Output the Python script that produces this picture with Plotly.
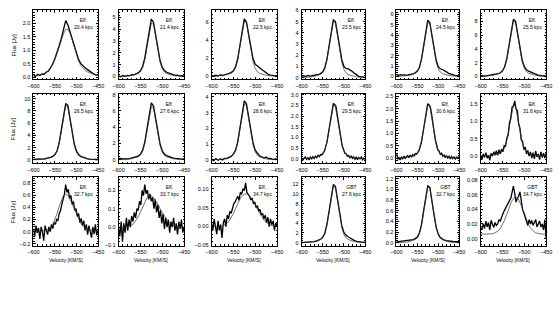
import plotly.graph_objects as go

# velocity grids (km/s)
V5 = list(range(-600, -449, 5))
V3 = list(range(-600, -449, 3))

labels = ["Eff.", "Eff.", "Eff.", "Eff.", "Eff.", "Eff.",
          "Eff.", "Eff.", "Eff.", "Eff.", "Eff.", "Eff.",
          "Eff.", "Eff.", "Eff.", "GBT", "GBT", "GBT"]
dists = ["20.4 kpc", "21.4 kpc", "22.5 kpc", "23.5 kpc", "24.5 kpc", "25.5 kpc",
         "26.5 kpc", "27.6 kpc", "28.6 kpc", "29.5 kpc", "30.6 kpc", "31.6 kpc",
         "32.7 kpc", "33.7 kpc", "34.7 kpc", "27.6 kpc", "32.7 kpc", "34.7 kpc"]

# ---------------- observed spectra ----------------
obs_1 = [0.08, 0.04, 0.12, 0.07, 0.13, 0.12, 0.2, 0.24, 0.36, 0.5, 0.7, 0.92, 1.18, 1.45, 1.78, 2.1,
         1.95, 1.7, 1.42, 1.12, 0.86, 0.66, 0.52, 0.42, 0.36, 0.3, 0.24, 0.18, 0.13, 0.1, 0.08]
obs_2 = [0.05, -0.03, 0.08, 0.02, 0.10, 0.06, 0.15, 0.14, 0.22, 0.30, 0.48, 0.85, 1.55, 2.70, 4.0, 4.85,
         4.6, 3.55, 2.30, 1.35, 0.78, 0.50, 0.36, 0.30, 0.20, 0.16, 0.09, 0.12, 0.05, 0.08, 0.03]
obs_3 = [0.08, 0.02, 0.12, 0.05, 0.15, 0.10, 0.18, 0.25, 0.30, 0.42, 0.62, 1.05, 1.95, 3.4, 5.1, 6.35,
         6.0, 4.75, 3.15, 1.95, 1.35, 1.10, 0.95, 0.75, 0.55, 0.35, 0.22, 0.15, 0.10, 0.12, 0.06]
obs_4 = [0.12, 0.18, 0.10, 0.2, 0.14, 0.16, 0.2, 0.22, 0.28, 0.36, 0.52, 0.9, 1.65, 2.85, 4.2, 5.15,
         5.0, 3.95, 2.65, 1.6, 1.0, 0.82, 0.78, 0.7, 0.55, 0.38, 0.22, 0.12, 0.08, 0.05, 0.02]
obs_5 = [0.15, 0.12, 0.18, 0.13, 0.16, 0.12, 0.18, 0.2, 0.26, 0.36, 0.52, 0.9, 1.7, 2.95, 4.4, 5.45,
         5.2, 4.1, 2.7, 1.6, 0.95, 0.75, 0.68, 0.6, 0.45, 0.3, 0.22, 0.15, 0.1, 0.08, 0.05]
obs_6 = [0.05, 0.1, 0.02, 0.08, 0.12, 0.15, 0.2, 0.28, 0.38, 0.52, 0.8, 1.4, 2.6, 4.5, 6.75, 8.3,
         8.0, 6.3, 4.1, 2.4, 1.4, 0.95, 0.75, 0.6, 0.42, 0.28, 0.2, 0.12, 0.15, 0.08, 0.05]
obs_7 = [0.15, 0.1, 0.18, 0.12, 0.15, 0.18, 0.22, 0.3, 0.42, 0.6, 0.9, 1.5, 2.85, 5.0, 7.5, 9.2,
         8.9, 7.0, 4.5, 2.6, 1.45, 0.9, 0.6, 0.45, 0.32, 0.22, 0.15, 0.12, 0.1, 0.12, 0.08]
obs_8 = [0.12, 0.16, 0.1, 0.15, 0.12, 0.14, 0.2, 0.25, 0.34, 0.45, 0.68, 1.15, 2.15, 3.75, 5.6, 7.0,
         6.6, 5.2, 3.35, 1.95, 1.1, 0.7, 0.5, 0.38, 0.26, 0.2, 0.16, 0.1, 0.12, 0.08, 0.1]
obs_9 = [0.05, -0.05, 0.08, -0.02, 0.06, 0.0, 0.1, 0.08, 0.16, 0.22, 0.36, 0.62, 1.15, 2.0, 3.0, 3.75,
         3.55, 2.8, 1.85, 1.1, 0.62, 0.4, 0.25, 0.2, 0.12, 0.18, 0.08, 0.1, 0.02, 0.06, 0.04]
obs_10 = [0.05, -0.06, 0.02, 0.09, -0.03, 0.04, -0.05, 0.08, 0.0, 0.1, 0.02, 0.12, 0.05, 0.16, 0.1, 0.2,
          0.18, 0.3, 0.36, 0.58, 0.78, 1.16, 1.5, 2.0, 2.3, 2.6, 2.55, 2.48, 2.1, 1.72, 1.25, 0.92, 0.6,
          0.45, 0.26, 0.24, 0.12, 0.16, 0.05, 0.12, 0.02, 0.09, -0.02, 0.07, -0.04, 0.06, 0.0, 0.08,
          -0.05, 0.03, -0.02]
obs_11 = [0.2, -0.05, 0.02, -0.08, 0.05, -0.04, 0.08, -0.02, 0.06, 0.1, 0.02, 0.12, 0.04, 0.14, 0.08,
          0.18, 0.16, 0.26, 0.3, 0.48, 0.66, 0.98, 1.3, 1.7, 1.95, 2.2, 2.15, 2.08, 1.8, 1.42, 1.1, 0.74,
          0.55, 0.34, 0.28, 0.15, 0.2, 0.08, 0.12, 0.02, 0.1, 0.0, 0.07, -0.03, 0.06, -0.02, 0.05, -0.04,
          0.04, 0.0, 0.06]
obs_12 = [0.02, -0.1, 0.06, -0.04, 0.1, -0.06, 0.02, -0.12, 0.08, 0.0, 0.12, 0.03, 0.15, 0.02, 0.18,
          0.06, 0.2, 0.12, 0.3, 0.28, 0.52, 0.6, 0.95, 1.08, 1.4, 1.42, 1.58, 1.35, 1.3, 0.92, 0.8, 0.46,
          0.42, 0.18, 0.26, 0.06, 0.16, 0.0, 0.12, -0.06, 0.1, -0.08, 0.14, -0.02, 0.06, -0.1, 0.12,
          -0.04, 0.08, -0.06, 0.1]
obs_13 = [0.05, -0.08, 0.1, -0.02, 0.06, -0.12, 0.08, 0.0, -0.15, 0.1, 0.02, -0.05, 0.08, 0.0, 0.12,
          0.05, 0.15, 0.12, 0.2, 0.18, 0.3, 0.35, 0.45, 0.55, 0.62, 0.78, 0.65, 0.7, 0.55, 0.6, 0.45,
          0.5, 0.35, 0.38, 0.25, 0.3, 0.15, 0.22, 0.1, 0.18, 0.02, 0.12, -0.05, 0.1, 0.02, -0.1, 0.08,
          -0.04, 0.12, -0.06, 0.04]
obs_14 = [0.0, -0.05, 0.03, -0.08, 0.02, -0.03, 0.05, -0.02, 0.04, 0.0, 0.06, 0.03, 0.08, 0.05, 0.1,
          0.09, 0.14, 0.12, 0.2, 0.17, 0.23, 0.18, 0.2, 0.15, 0.18, 0.14, 0.16, 0.1, 0.15, 0.08, 0.12,
          0.05, 0.09, 0.02, 0.07, -0.01, 0.05, 0.0, 0.04, -0.03, 0.03, 0.0, 0.05, -0.02, 0.02, -0.04,
          0.03, -0.01, 0.04, -0.03, 0.0]
obs_15 = [0.01, -0.01, 0.02, 0.0, -0.02, 0.015, -0.01, 0.005, -0.03, 0.01, 0.02, 0.0, 0.03, 0.02, 0.04,
          0.035, 0.05, 0.06, 0.065, 0.075, 0.08, 0.07, 0.09, 0.085, 0.1, 0.095, 0.115, 0.09, 0.085, 0.08,
          0.07, 0.075, 0.06, 0.065, 0.05, 0.055, 0.04, 0.045, 0.03, 0.035, 0.02, 0.03, 0.01, 0.025, 0.0,
          0.02, 0.005, 0.015, -0.01, 0.01, 0.0]
obs_16 = [0.0, 0.02, 0.0, 0.05, 0.08, 0.12, 0.2, 0.3, 0.45, 0.7, 1.1, 2.0, 3.8, 6.6, 9.8, 12.0,
          11.6, 9.1, 6.0, 3.5, 2.1, 1.5, 1.2, 0.9, 0.6, 0.4, 0.25, 0.15, 0.1, 0.05, 0.03]
obs_17 = [0.02, 0.025, 0.02, 0.03, 0.03, 0.035, 0.04, 0.045, 0.06, 0.08, 0.11, 0.19, 0.34, 0.6, 0.88, 1.07,
          1.04, 0.82, 0.53, 0.3, 0.17, 0.1, 0.07, 0.05, 0.04, 0.03, 0.03, 0.025, 0.02, 0.02, 0.02]
obs_18 = [0.015, 0.012, 0.02, 0.014, 0.024, 0.016, 0.022, 0.012, 0.025, 0.018, 0.015, 0.022, 0.018, 0.02,
          0.026, 0.024, 0.03, 0.034, 0.038, 0.042, 0.045, 0.05, 0.052, 0.055, 0.062, 0.072, 0.062, 0.05,
          0.055, 0.058, 0.064, 0.05, 0.04, 0.035, 0.03, 0.022, 0.018, 0.026, 0.02, 0.025, 0.018, 0.022,
          0.026, 0.016, 0.02, 0.024, 0.016, 0.02, 0.012, 0.026, 0.0]

# ---------------- model spectra (on V5) ----------------
mod_1 = [0.05, 0.06, 0.07, 0.09, 0.11, 0.14, 0.18, 0.25, 0.35, 0.50, 0.68, 0.90, 1.14, 1.40, 1.62, 1.77,
         1.78, 1.65, 1.40, 1.10, 0.82, 0.60, 0.44, 0.33, 0.26, 0.21, 0.17, 0.14, 0.12, 0.10, 0.09]
mod_2 = [0.005, 0.009, 0.014, 0.028, 0.041, 0.064, 0.097, 0.133, 0.189, 0.267, 0.414, 0.736, 1.394, 2.466,
         3.698, 4.517, 4.416, 3.464, 2.222, 1.228, 0.649, 0.377, 0.248, 0.175, 0.124, 0.087, 0.060, 0.037,
         0.023, 0.014, 0.009]
mod_3 = [0.006, 0.012, 0.019, 0.037, 0.056, 0.087, 0.13, 0.18, 0.25, 0.36, 0.56, 0.99, 1.88, 3.32, 4.98,
         6.09, 5.95, 4.67, 2.99, 1.66, 0.87, 0.51, 0.33, 0.24, 0.17, 0.12, 0.08, 0.05, 0.03, 0.02, 0.01]
mod_4 = [0.005, 0.01, 0.015, 0.031, 0.046, 0.071, 0.107, 0.148, 0.209, 0.296, 0.459, 0.816, 1.545, 2.734,
         4.10, 5.008, 4.896, 3.840, 2.463, 1.362, 0.719, 0.418, 0.275, 0.194, 0.138, 0.097, 0.066, 0.041,
         0.026, 0.015, 0.01]
mod_5 = [0.005, 0.011, 0.016, 0.032, 0.048, 0.074, 0.111, 0.154, 0.217, 0.307, 0.477, 0.848, 1.606, 2.841,
         4.261, 5.205, 5.088, 3.991, 2.56, 1.415, 0.747, 0.435, 0.286, 0.201, 0.143, 0.101, 0.069, 0.042,
         0.027, 0.016, 0.011]
mod_6 = [0.008, 0.016, 0.024, 0.049, 0.073, 0.114, 0.171, 0.236, 0.334, 0.473, 0.734, 1.304, 2.469, 4.368,
         6.553, 8.003, 7.824, 6.137, 3.936, 2.176, 1.149, 0.668, 0.44, 0.31, 0.22, 0.155, 0.106, 0.065,
         0.041, 0.024, 0.016]
mod_7 = [0.009, 0.018, 0.027, 0.054, 0.081, 0.126, 0.189, 0.261, 0.369, 0.522, 0.81, 1.44, 2.727, 4.824,
         7.236, 8.838, 8.64, 6.777, 4.347, 2.403, 1.269, 0.738, 0.486, 0.342, 0.243, 0.171, 0.117, 0.072,
         0.045, 0.027, 0.018]
mod_8 = [0.007, 0.013, 0.020, 0.040, 0.059, 0.092, 0.139, 0.191, 0.271, 0.383, 0.594, 1.056, 2.0, 3.538,
         5.306, 6.481, 6.336, 4.970, 3.188, 1.762, 0.931, 0.541, 0.356, 0.251, 0.178, 0.125, 0.086, 0.053,
         0.033, 0.02, 0.013]
mod_9 = [0.004, 0.007, 0.011, 0.022, 0.032, 0.05, 0.076, 0.104, 0.148, 0.209, 0.324, 0.576, 1.091, 1.93,
         2.894, 3.535, 3.456, 2.711, 1.739, 0.961, 0.508, 0.295, 0.194, 0.137, 0.097, 0.068, 0.047, 0.029,
         0.018, 0.011, 0.007]
mod_10 = [0.003, 0.005, 0.008, 0.015, 0.023, 0.036, 0.054, 0.074, 0.105, 0.148, 0.23, 0.408, 0.773, 1.367,
          2.05, 2.504, 2.448, 1.92, 1.232, 0.681, 0.36, 0.209, 0.138, 0.097, 0.069, 0.048, 0.033, 0.02,
          0.013, 0.008, 0.005]
mod_11 = [0.002, 0.004, 0.007, 0.013, 0.02, 0.031, 0.046, 0.063, 0.089, 0.126, 0.196, 0.349, 0.661, 1.168,
          1.753, 2.141, 2.093, 1.642, 1.053, 0.582, 0.307, 0.179, 0.118, 0.083, 0.059, 0.041, 0.028, 0.017,
          0.011, 0.007, 0.004]
mod_12 = [0.001, 0.003, 0.004, 0.009, 0.013, 0.021, 0.031, 0.043, 0.061, 0.086, 0.133, 0.237, 0.448, 0.793,
          1.19, 1.453, 1.421, 1.114, 0.715, 0.395, 0.209, 0.121, 0.08, 0.056, 0.04, 0.028, 0.019, 0.012,
          0.007, 0.004, 0.003]
mod_13 = [0.0, 0.0, 0.0, 0.0, 0.005, 0.01, 0.02, 0.04, 0.07, 0.12, 0.2, 0.3, 0.42, 0.53, 0.6, 0.62,
          0.6, 0.54, 0.46, 0.37, 0.28, 0.2, 0.14, 0.09, 0.06, 0.04, 0.025, 0.015, 0.01, 0.005, 0.0]
mod_14 = [0.0, 0.0, 0.0, 0.0, 0.0, 0.005, 0.01, 0.02, 0.035, 0.055, 0.08, 0.11, 0.14, 0.16, 0.17, 0.168,
          0.16, 0.145, 0.125, 0.1, 0.078, 0.058, 0.04, 0.027, 0.017, 0.01, 0.006, 0.003, 0.001, 0.0, 0.0]
mod_15 = [0.0, 0.0, 0.0, 0.0, 0.001, 0.002, 0.004, 0.008, 0.014, 0.023, 0.034, 0.047, 0.06, 0.072, 0.08,
          0.085, 0.086, 0.083, 0.077, 0.068, 0.057, 0.046, 0.035, 0.025, 0.017, 0.011, 0.007, 0.004, 0.002,
          0.001, 0.0]
mod_16 = [0.012, 0.024, 0.035, 0.071, 0.106, 0.165, 0.248, 0.342, 0.484, 0.684, 1.062, 1.888, 3.575, 6.325,
          9.487, 11.588, 11.328, 8.885, 5.699, 3.151, 1.664, 0.968, 0.637, 0.448, 0.319, 0.224, 0.153,
          0.094, 0.059, 0.035, 0.024]
mod_17 = [0.001, 0.002, 0.003, 0.006, 0.01, 0.015, 0.022, 0.031, 0.044, 0.062, 0.096, 0.171, 0.324, 0.574,
          0.86, 1.051, 1.027, 0.806, 0.517, 0.286, 0.151, 0.088, 0.058, 0.041, 0.029, 0.02, 0.014, 0.009,
          0.005, 0.003, 0.002]
mod_18 = [0.006, 0.006, 0.006, 0.006, 0.0062, 0.0065, 0.0071, 0.0082, 0.0103, 0.0137, 0.0187, 0.0254,
          0.0335, 0.0421, 0.0497, 0.0551, 0.057, 0.0551, 0.0497, 0.0421, 0.0335, 0.0254, 0.0187, 0.0137,
          0.0103, 0.0082, 0.0071, 0.0065, 0.0062, 0.006, 0.006]

observed = [obs_1, obs_2, obs_3, obs_4, obs_5, obs_6, obs_7, obs_8, obs_9, obs_10, obs_11, obs_12,
            obs_13, obs_14, obs_15, obs_16, obs_17, obs_18]
models = [mod_1, mod_2, mod_3, mod_4, mod_5, mod_6, mod_7, mod_8, mod_9, mod_10, mod_11, mod_12,
          mod_13, mod_14, mod_15, mod_16, mod_17, mod_18]

# y-axis settings per panel: (range, dtick, format)
y_axes = [([-0.06, 2.48], 0.5, ".1f"), ([-0.22, 5.6], 1, "d"), ([-0.3, 7.3], 2, "d"),
          ([-0.13, 6.0], 1, "d"), ([-0.25, 6.4], 1, "d"), ([-0.4, 9.6], 2, "d"),
          ([-0.5, 10.8], 2, "d"), ([-0.4, 8.1], 2, "d"), ([-0.2, 4.2], 1, "d"),
          ([-0.2, 3.05], 0.5, ".1f"), ([-0.2, 2.6], 0.5, ".1f"), ([-0.2, 1.78], 0.5, ".1f"),
          ([-0.23, 0.9], 0.2, ".1f"), ([-0.1, 0.27], 0.1, ".1f"), ([-0.05, 0.13], 0.05, ".2f"),
          ([-0.6, 13.5], 2, "d"), ([-0.05, 1.23], 0.2, ".1f"), ([-0.0095, 0.084], 0.02, ".2f")]

W, H = 560, 330
col_l = [28, 115, 210, 302, 399, 485]
col_r = [94, 182, 277, 367, 463, 552]
row_t = [7.5, 92.5, 177.5]
row_b = [77.5, 163, 247]

FONT = "Liberation Sans"
fig = go.Figure()
layout = {}
annotations = []
for i in range(18):
    r, c = divmod(i, 6)
    n = i + 1
    xs = "x" if n == 1 else f"x{n}"
    ys = "y" if n == 1 else f"y{n}"
    vobs = V5 if len(observed[i]) == len(V5) else V3
    fig.add_trace(go.Scatter(x=vobs, y=observed[i], xaxis=xs, yaxis=ys, mode="lines",
                             line=dict(color="black", width=1.3), showlegend=False, hoverinfo="skip"))
    fig.add_trace(go.Scatter(x=V5, y=models[i], xaxis=xs, yaxis=ys, mode="lines",
                             line=dict(color="#333", width=0.7), showlegend=False, hoverinfo="skip"))
    rng, dt, fmt = y_axes[i]
    common = dict(showline=True, linecolor="black", linewidth=0.8, mirror="allticks",
                  ticks="inside", ticklen=2.5, tickwidth=0.6, tickcolor="black",
                  showgrid=False, zeroline=False,
                  tickfont=dict(family=FONT, size=5.5, color="black"))
    layout["xaxis" if n == 1 else f"xaxis{n}"] = dict(
        domain=[col_l[c] / W, col_r[c] / W], anchor=ys, range=[-600, -450],
        tickvals=[-600, -550, -500, -450], ticklabelstandoff=1,
        minor=dict(ticks="inside", ticklen=1.3, dtick=10, tickwidth=0.5, tickcolor="black"), **common)
    layout["yaxis" if n == 1 else f"yaxis{n}"] = dict(
        domain=[1 - row_b[r] / H, 1 - row_t[r] / H], anchor=xs, range=rng,
        dtick=dt, tick0=0, tickformat=fmt, ticklabelstandoff=1,
        minor=dict(ticks="inside", ticklen=1.3, dtick=dt / 5, tickwidth=0.5, tickcolor="black"), **common)
    annotations.append(dict(xref=f"{xs} domain", yref=f"{ys} domain", x=0.96, y=0.93,
                            xanchor="right", yanchor="top", align="center", showarrow=False,
                            text=f"{labels[i]}<br>{dists[i]}",
                            font=dict(family=FONT, size=5, color="black")))
    if c == 0:
        annotations.append(dict(xref="paper", yref="paper", x=8 / W,
                                y=1 - (row_t[r] + row_b[r]) / 2 / H, textangle=-90,
                                xanchor="center", yanchor="middle", showarrow=False,
                                text="Flux [Jy]", font=dict(family=FONT, size=6, color="black")))
    if r == 2:
        annotations.append(dict(xref="paper", yref="paper", x=(col_l[c] + col_r[c]) / 2 / W,
                                y=1 - 257 / H, xanchor="center", yanchor="top", showarrow=False,
                                text="Velocity [KM/S]", font=dict(family=FONT, size=5, color="black")))

fig.update_layout(width=W, height=H, margin=dict(l=0, r=0, t=0, b=0),
                  paper_bgcolor="white", plot_bgcolor="white", showlegend=False,
                  annotations=annotations, **layout)
fig.write_html("out.html")
